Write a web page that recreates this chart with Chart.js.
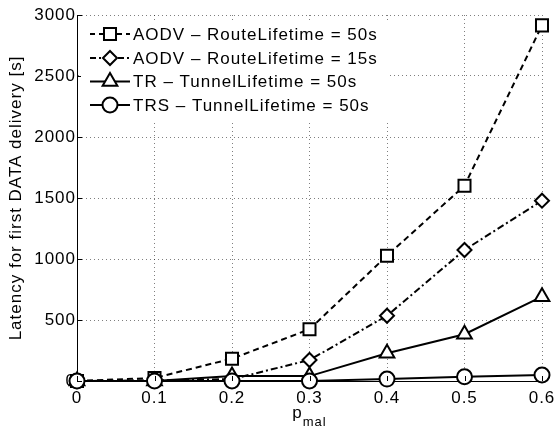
<!DOCTYPE html>
<html>
<head>
<meta charset="utf-8">
<script src="https://cdn.jsdelivr.net/npm/chart.js@4/dist/chart.umd.min.js"></script>
<style>
html,body{margin:0;padding:0;background:#fff;}
#wrap{width:556px;height:428px;position:relative;}
</style>
</head>
<body>
<div id="wrap"><canvas id="c" width="556" height="428"></canvas></div>
<script>
const pmal = [0, 0.1, 0.2, 0.3, 0.4, 0.5, 0.6];
const xTickLabels = ['0', '0.1', '0.2', '0.3', '0.4', '0.5', '0.6'];
const yTickLabels = ['0', '500', '1000', '1500', '2000', '2500', '3000'];
const seriesNames = [
  'AODV \u2013 RouteLifetime = 50s',
  'AODV \u2013 RouteLifetime = 15s',
  'TR \u2013 TunnelLifetime = 50s',
  'TRS \u2013 TunnelLifetime = 50s'
];
const aodv50 = [0, 25, 183, 424, 1027, 1601, 2915];
const aodv15 = [0, 5, 15, 172, 535, 1074, 1478];
const tr = [0, 0, 40, 40, 227, 383, 691];
const trs = [0, 0, 0, 0, 16, 35, 49];
const yLabel = 'Latency for first DATA delivery [s]';
const xLabelMain = 'p';
const xLabelSub = 'mal';

const FONT = "'Liberation Sans', Arial, Helvetica, sans-serif";
const FS = 17;
const LS = '1px';

function pts(vals){ return vals.map((v,i)=>({x:pmal[i], y:v})); }

const styles = [
  {dash:[6,4], point:'rect', r:8.5},
  {dash:[7,3,2,3], point:'rectRot', r:7},
  {dash:[], point:'triangle', r:8.5},
  {dash:[], point:'circle', r:7.5}
];
const allData = [aodv50, aodv15, tr, trs];

const datasets = allData.map((d,i)=>({
  label: seriesNames[i],
  data: pts(d),
  borderColor: '#000',
  borderWidth: 2,
  borderDash: styles[i].dash,
  pointStyle: styles[i].point,
  pointRadius: styles[i].r,
  pointBorderWidth: 2,
  pointBorderColor: '#000',
  pointBackgroundColor: '#fff',
  fill: false,
  tension: 0,
  clip: false,
  order: 3 - i
}));

function drawMarker(ctx, style, x, y, r){
  ctx.beginPath();
  if (style === 'circle') {
    ctx.arc(x, y, r, 0, Math.PI*2);
  } else if (style === 'rect') {
    const s = r*Math.SQRT1_2;
    ctx.rect(x-s, y-s, 2*s, 2*s);
  } else if (style === 'rectRot') {
    ctx.moveTo(x, y-r); ctx.lineTo(x+r, y); ctx.lineTo(x, y+r); ctx.lineTo(x-r, y); ctx.closePath();
  } else if (style === 'triangle') {
    for (let k=0;k<3;k++){
      const a = k*2*Math.PI/3;
      const px = x + Math.sin(a)*r, py = y - Math.cos(a)*r;
      if (k===0) ctx.moveTo(px,py); else ctx.lineTo(px,py);
    }
    ctx.closePath();
  }
  ctx.fillStyle = '#fff';
  ctx.fill();
  ctx.setLineDash([]);
  ctx.lineWidth = 2;
  ctx.strokeStyle = '#000';
  ctx.stroke();
}

const spacing = {
  id: 'spacing',
  beforeLayout(chart){ chart.ctx.letterSpacing = LS; },
  beforeDraw(chart){ chart.ctx.letterSpacing = LS; }
};

const extras = {
  id: 'extras',
  afterDraw(chart){
    const ctx = chart.ctx;
    const xs = chart.scales.x, ys = chart.scales.y;
    const a = chart.chartArea;
    ctx.save();
    ctx.letterSpacing = LS;
    // inward ticks
    ctx.strokeStyle = '#000';
    ctx.lineWidth = 1;
    ctx.setLineDash([]);
    ys.ticks.forEach(t=>{
      const py = Math.round(ys.getPixelForValue(t.value))+0.5;
      ctx.beginPath(); ctx.moveTo(a.left, py); ctx.lineTo(a.left+5, py); ctx.stroke();
    });
    xs.ticks.forEach(t=>{
      const px = Math.round(xs.getPixelForValue(t.value))+0.5;
      ctx.beginPath(); ctx.moveTo(px, a.bottom); ctx.lineTo(px, a.bottom-5); ctx.stroke();
    });
    // legend
    const lx = a.left + 4, ly = a.top + 5, lw = 308, lh = 102;
    ctx.fillStyle = '#fff';
    ctx.fillRect(lx, ly, lw, lh);
    const rowY = [34, 58, 81.5, 105];
    ctx.font = FS + 'px ' + FONT;
    ctx.textBaseline = 'middle';
    ctx.textAlign = 'left';
    chart.data.datasets.forEach((ds,i)=>{
      const y = rowY[i] - 15 + a.top;
      ctx.strokeStyle = '#000';
      ctx.lineWidth = 2;
      ctx.setLineDash(styles[i].dash.length ? (i===0 ? [5,4] : [6,3,2,3]) : []);
      ctx.beginPath(); ctx.moveTo(a.left+13, y); ctx.lineTo(a.left+53, y); ctx.stroke();
      drawMarker(ctx, styles[i].point, a.left+33, y, styles[i].r);
      ctx.fillStyle = '#000';
      ctx.fillText(ds.label, a.left+56, y+1);
    });
    // x title with subscript
    ctx.font = FS + 'px ' + FONT;
    const w1 = ctx.measureText(xLabelMain).width;
    ctx.font = '13px ' + FONT;
    const w2 = ctx.measureText(xLabelSub).width;
    const cx = (a.left + a.right)/2;
    const x0 = cx - (w1+w2)/2;
    ctx.textBaseline = 'alphabetic';
    ctx.fillStyle = '#000';
    ctx.font = FS + 'px ' + FONT;
    ctx.fillText(xLabelMain, x0, 418);
    ctx.font = '13px ' + FONT;
    ctx.fillText(xLabelSub, x0 + w1, 426);
    ctx.restore();
  }
};

new Chart(document.getElementById('c'), {
  type: 'line',
  data: { datasets },
  options: {
    responsive: false,
    animation: false,
    events: [],
    layout: { padding: { left: 0, right: 14, top: 15, bottom: 0 } },
    plugins: { legend: { display: false }, tooltip: { enabled: false } },
    scales: {
      x: {
        type: 'linear',
        min: 0, max: 0.6,
        afterBuildTicks(s){ s.ticks = pmal.map(v=>({value:v})); },
        afterFit(s){ s.height = 47; s.paddingRight = 0; s.paddingLeft = 0; },
        grid: { color: 'rgba(0,0,0,0.5)', lineWidth: 1, drawTicks: false },
        border: { display: true, color: '#000', width: 1, dash: [1,3] },
        ticks: {
          color: '#000', padding: 7, maxRotation: 0,
          font: { family: FONT, size: FS },
          callback: (v, i) => xTickLabels[i]
        }
      },
      y: {
        min: 0, max: 3000,
        afterBuildTicks(s){ s.ticks = yTickLabels.map(v=>({value:Number(v)})); },
        afterFit(s){ s.width = 77; s.paddingTop = 0; s.paddingBottom = 0; },
        grid: { color: 'rgba(0,0,0,0.5)', lineWidth: 1, drawTicks: false },
        border: { display: true, color: '#000', width: 1, dash: [1,3] },
        ticks: {
          color: '#000', padding: 1,
          font: { family: FONT, size: FS },
          callback: (v, i) => yTickLabels[i]
        },
        title: {
          display: true, text: yLabel, color: '#000',
          font: { family: FONT, size: FS },
          padding: { top: 6, bottom: 0 }
        }
      }
    }
  },
  plugins: [spacing, extras]
});
</script>
</body>
</html>
